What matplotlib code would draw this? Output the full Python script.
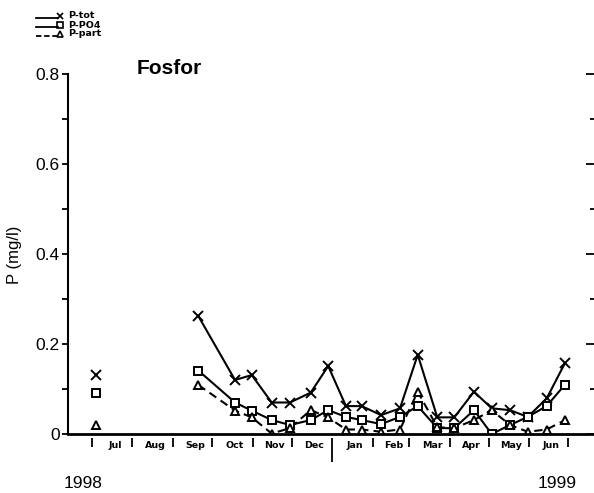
import numpy as np
import matplotlib
matplotlib.use("Agg")
import matplotlib.pyplot as plt
from matplotlib.lines import Line2D

# ---- data (days since 1998-07-01) ----
days = [3, 81.5, 109.6, 122.4, 137.7, 151.7, 167.6, 181, 194.6, 206.7, 221.5,
        236, 249.6, 264.6, 277.6, 292.7, 306.3, 320.3, 333.9, 348.4, 362.5]
p_tot = [0.131, 0.262, 0.120, 0.131, 0.070, 0.070, 0.092, 0.151, 0.062, 0.062, 0.042,
         0.057, 0.176, 0.037, 0.037, 0.094, 0.057, 0.053, 0.038, 0.079, 0.158]
p_po4 = [0.092, 0.141, 0.070, 0.052, 0.031, 0.020, 0.031, 0.053, 0.038, 0.031, 0.022,
         0.038, 0.062, 0.013, 0.013, 0.053, 0.000, 0.020, 0.038, 0.062, 0.110]
p_part = [0.020, 0.109, 0.052, 0.037, 0.001, 0.013, 0.053, 0.037, 0.010, 0.010, 0.005,
          0.010, 0.094, 0.015, 0.013, 0.031, 0.053, 0.020, 0.005, 0.010, 0.031]

month_labels = ["Jul", "Aug", "Sep", "Oct", "Nov", "Dec", "Jan", "Feb", "Mar", "Apr", "May", "Jun"]
month_starts = [0, 31, 62, 92, 123, 153, 184, 215, 243, 274, 304, 335, 365]
year_labels = ["1998", "1999"]
series_names = ["P-tot", "P-PO4", "P-part"]

plt.rcParams['font.family'] = ['Liberation Sans', 'DejaVu Sans']

W, H = 594, 493
fig = plt.figure(figsize=(W / 100, H / 100), dpi=100)
ax = fig.add_axes([68 / W, 1 - 434 / H, (594 - 68) / W, (434 - 74) / H])

xmin = (68 - 92) / 1.305
xmax = (594 - 92) / 1.305
ax.set_xlim(xmin, xmax)
ax.set_ylim(0, 0.8)

d = np.array(days)
styles = [
    dict(data=p_tot, marker='x', ls='-', ms=7, mfc='none'),
    dict(data=p_po4, marker='s', ls='-', ms=6, mfc='white'),
    dict(data=p_part, marker='^', ls=(0, (4, 2.5)), ms=6, mfc='white'),
]
for s in styles:
    v = np.array(s['data'])
    # first point (July) is isolated: no connecting line
    ax.plot(d[1:], v[1:], color='black', lw=1.5, ls=s['ls'], zorder=2)
    ax.plot(d, v, color='black', lw=0, marker=s['marker'], ms=s['ms'],
            mfc=s['mfc'], mec='black', mew=1.4, zorder=3)

# axes styling
for sp in ['top', 'right']:
    ax.spines[sp].set_visible(False)
ax.spines['left'].set_linewidth(1.5)
ax.spines['bottom'].set_visible(False)
ax.axhline(0, color='black', lw=2, zorder=4, clip_on=False)
ax.spines['bottom'].set_position(('outward', 3))

ax.set_yticks([0, 0.2, 0.4, 0.6, 0.8])
ax.set_yticklabels(["0", "0.2", "0.4", "0.6", "0.8"])
ax.set_yticks(np.arange(0.1, 0.8, 0.2), minor=True)
ax.tick_params(axis='y', which='both', direction='out', length=4, width=1.3,
               labelsize=12.5, pad=2, right=True)
for t in ax.yaxis.get_major_ticks():
    t.tick2line.set_markersize(6)
    t.tick2line.set_marker(matplotlib.lines.TICKLEFT)
for t in ax.yaxis.get_minor_ticks():
    t.tick2line.set_markersize(3)
    t.tick2line.set_marker(matplotlib.lines.TICKLEFT)

major_x = [m for m in month_starts if m != 184]
ax.set_xticks(major_x)
ax.set_xticklabels([])
ax.set_xticks([184], minor=True)
ax.tick_params(axis='x', which='major', direction='out', length=6.5, width=1.3)
ax.tick_params(axis='x', which='minor', direction='out', length=17, width=1.3)
ax.xaxis.set_minor_formatter(matplotlib.ticker.NullFormatter())

trans = matplotlib.transforms.blended_transform_factory(ax.transData, fig.transFigure)
for i, lab in enumerate(month_labels):
    xc = (month_starts[i] + month_starts[i + 1]) / 2
    ax.text(xc + 2, 1 - 445 / H, lab, transform=trans, ha='center', va='center',
            fontsize=6.8, fontweight='bold', family='DejaVu Sans')

fig.text(83 / W, 1 - 483 / H, year_labels[0], ha='center', va='center', fontsize=12.5)
fig.text(557 / W, 1 - 483 / H, year_labels[1], ha='center', va='center', fontsize=12.5)

fig.text(14 / W, 1 - 255 / H, "P (mg/l)", rotation=90, ha='center', va='center',
         fontsize=12)

fig.text(169 / W, 1 - 68 / H, "Fosfor", ha='center', va='center', fontsize=15,
         fontweight='bold')

# legend (manual, figure coords)
rows_y = [16, 25, 34]
leg_ls = ['-', '-', (0, (3, 1.5))]
leg_mk = ['x', 's', '^']
for yy, ls, mk, name in zip(rows_y, leg_ls, leg_mk, series_names):
    fy = 1 - yy / H
    fig.add_artist(Line2D([36 / W, 58 / W], [fy - 2 / H, fy - 2 / H], color='black',
                          lw=1.3, ls=ls, transform=fig.transFigure))
    fig.add_artist(Line2D([60 / W], [fy], color='black', lw=0, marker=mk, ms=4.5,
                          mfc='none', mec='black', mew=1.2, transform=fig.transFigure))
    fig.text(68 / W, fy, name, ha='left', va='center', fontsize=6.8, fontweight='bold',
             family='DejaVu Sans')

fig.savefig("out.png", dpi=100)
